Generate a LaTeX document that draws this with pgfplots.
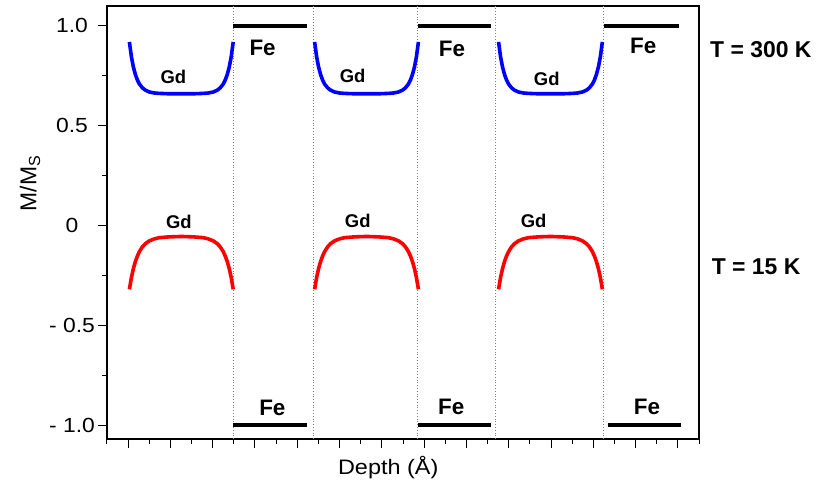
\documentclass[border=0pt]{standalone}
\usepackage{fontspec}
\setmainfont{Liberation Sans}
\newfontfamily\widefont[FakeStretch=1.12]{Liberation Sans}
\usepackage{pgfplots}
\usepackage{pgfplotstable}
\pgfplotsset{compat=1.18}
\usetikzlibrary{calc}

\pgfplotstableread{
x1 x2 x3 b r
1.030 5.410 9.760 0.920 -0.320
1.077 5.457 9.807 0.846 -0.261
1.124 5.504 9.854 0.794 -0.216
1.172 5.552 9.902 0.756 -0.180
1.219 5.599 9.949 0.729 -0.153
1.266 5.646 9.996 0.709 -0.131
1.337 5.717 10.067 0.690 -0.107
1.408 5.788 10.138 0.678 -0.091
1.502 5.882 10.232 0.669 -0.077
1.620 6.000 10.350 0.664 -0.067
1.738 6.118 10.468 0.662 -0.061
1.974 6.354 10.704 0.660 -0.057
2.258 6.638 10.988 0.660 -0.055
2.541 6.921 11.271 0.660 -0.057
2.777 7.157 11.507 0.662 -0.061
2.895 7.275 11.625 0.664 -0.067
3.013 7.393 11.743 0.669 -0.077
3.107 7.487 11.837 0.678 -0.091
3.178 7.558 11.908 0.690 -0.107
3.249 7.629 11.979 0.709 -0.131
3.296 7.676 12.026 0.729 -0.153
3.343 7.723 12.073 0.756 -0.180
3.391 7.771 12.121 0.794 -0.216
3.438 7.818 12.168 0.846 -0.261
3.485 7.865 12.215 0.920 -0.320
}\profile

\begin{document}
\begin{tikzpicture}
\begin{axis}[
  name=ax,
  scale only axis,
  width=592bp, height=433bp,
  xmin=0.5, xmax=14.5,
  ymin=-1.07, ymax=1.1,
  clip=false,
  axis line style={line width=1.2bp},
  tick style={line width=1bp, black},
  tick align=outside,
  tick pos=left,
  major tick length=9bp,
  minor tick length=4.5bp,
  xtick={1,2,...,14},
  minor xtick={0.5,1.5,...,14.5},
  xticklabels={},
  ytick={-1,-0.5,0,0.5,1},
  minor ytick={-0.75,-0.25,0.25,0.75},
  yticklabels={- 1.0,- 0.5,0,0.5,1.0},
  yticklabel style={font=\widefont\fontsize{20.5}{20.5}\selectfont, anchor=center, xshift=-26bp},
  xlabel={Depth (Å)},
  xlabel style={font=\widefont\fontsize{21}{21}\selectfont, at={(axis description cs:0.475,-0.066)}, anchor=center},
  ylabel={M/M\textsubscript{S}},
  ylabel style={font=\fontsize{23}{23}\selectfont, at={(axis description cs:-0.13,0.59)}, anchor=center},
]
% dotted layer boundaries
\addplot[gray, dotted, line width=0.8bp] coordinates {(3.48,-1.07) (3.48,1.1)};
\addplot[gray, dotted, line width=0.8bp] coordinates {(5.38,-1.07) (5.38,1.1)};
\addplot[gray, dotted, line width=0.8bp] coordinates {(7.84,-1.07) (7.84,1.1)};
\addplot[gray, dotted, line width=0.8bp] coordinates {(9.69,-1.07) (9.69,1.1)};
\addplot[gray, dotted, line width=0.8bp] coordinates {(12.24,-1.07) (12.24,1.1)};
% Gd at 300 K
\addplot[blue, line width=3.6bp, line join=round] table[x=x1, y=b] {\profile};
\addplot[blue, line width=3.6bp, line join=round] table[x=x2, y=b] {\profile};
\addplot[blue, line width=3.6bp, line join=round] table[x=x3, y=b] {\profile};
% Gd at 15 K
\addplot[red, line width=3.6bp, line join=round] table[x=x1, y=r] {\profile};
\addplot[red, line width=3.6bp, line join=round] table[x=x2, y=r] {\profile};
\addplot[red, line width=3.6bp, line join=round] table[x=x3, y=r] {\profile};
% Fe at 300 K
\addplot[black, line width=4bp] coordinates {(3.49,1) (5.23,1)};
\addplot[black, line width=4bp] coordinates {(7.85,1) (9.58,1)};
\addplot[black, line width=4bp] coordinates {(12.26,1) (14.03,1)};
% Fe at 15 K
\addplot[black, line width=4bp] coordinates {(3.49,-1) (5.23,-1)};
\addplot[black, line width=4bp] coordinates {(7.85,-1) (9.58,-1)};
\addplot[black, line width=4bp] coordinates {(12.35,-1) (14.08,-1)};
% labels
\tikzset{gd/.style={font=\bfseries\fontsize{18.5}{18.5}\selectfont, inner sep=0pt},
         fe/.style={font=\bfseries\fontsize{22.5}{22.5}\selectfont, inner sep=0pt},
         tl/.style={font=\bfseries\fontsize{23}{23}\selectfont, inner sep=0pt, anchor=west}}
\node[gd] at (axis cs:2.07,0.745) {Gd};
\node[gd] at (axis cs:6.31,0.752) {Gd};
\node[gd] at (axis cs:10.90,0.736) {Gd};
\node[gd] at (axis cs:2.20,0.02) {Gd};
\node[gd] at (axis cs:6.43,0.023) {Gd};
\node[gd] at (axis cs:10.59,0.023) {Gd};
\node[fe] at (axis cs:4.18,0.888) {Fe};
\node[fe] at (axis cs:8.66,0.887) {Fe};
\node[fe] at (axis cs:13.18,0.902) {Fe};
\node[fe] at (axis cs:4.41,-0.912) {Fe};
\node[fe] at (axis cs:8.64,-0.91) {Fe};
\node[fe] at (axis cs:13.27,-0.91) {Fe};
\node[tl] at (axis cs:14.76,0.88) {T = 300 K};
\node[tl] at (axis cs:14.80,-0.205) {T = 15 K};
\end{axis}
\pgfresetboundingbox
\path ($(ax.south west)+(-107bp,-45bp)$) rectangle ($(ax.north east)+(118bp,6bp)$);
\end{tikzpicture}
\end{document}
